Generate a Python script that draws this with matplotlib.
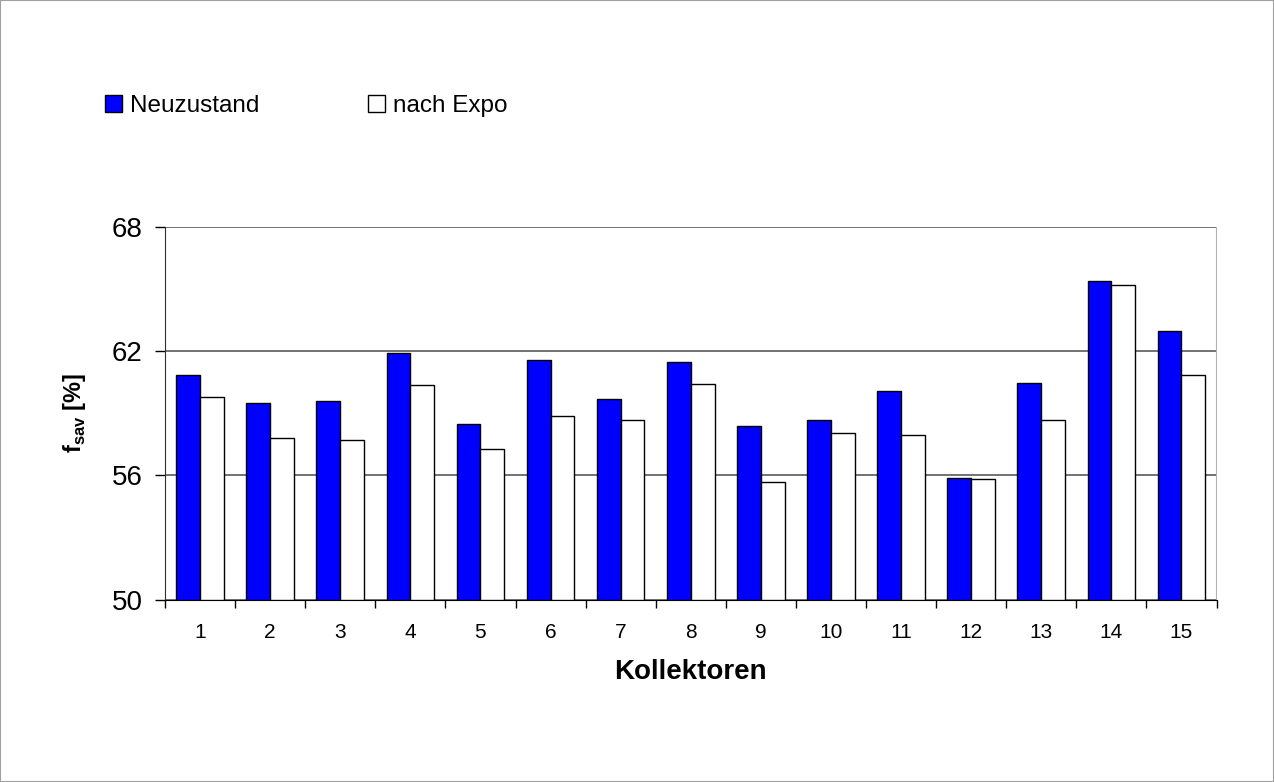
import matplotlib
matplotlib.use("Agg")
import matplotlib.pyplot as plt
import numpy as np
from matplotlib.patches import Rectangle

plt.rcParams['font.family'] = ['Liberation Sans', 'DejaVu Sans']
plt.rcParams['mathtext.fontset'] = 'custom'
plt.rcParams['mathtext.rm'] = 'Liberation Sans'
plt.rcParams['mathtext.bf'] = 'Liberation Sans:bold'

kollektoren = [str(i) for i in range(1, 16)]
neuzustand = [60.87, 59.48, 59.58, 61.9, 58.5, 61.58, 59.69, 61.47, 58.4, 58.67,
              60.06, 55.85, 60.48, 65.41, 62.98]
nach_expo = [59.8, 57.8, 57.69, 60.38, 57.27, 58.88, 58.67, 60.4, 55.69, 58.06,
             57.96, 55.8, 58.66, 65.19, 60.87]

fig = plt.figure(figsize=(12.74, 7.82), dpi=100)
ax = fig.add_axes([165/1274, 1 - 599.5/782, 1051.5/1274, 372.5/782])

x = np.arange(len(kollektoren))
w = 0.34
ax.bar(x - w/2, np.array(neuzustand) - 50, w, bottom=50, color='#0000ff',
       edgecolor='black', linewidth=1.0, zorder=3, label='Neuzustand')
ax.bar(x + w/2, np.array(nach_expo) - 50, w, bottom=50, color='white',
       edgecolor='black', linewidth=1.0, zorder=3, label='nach Expo')

ax.set_xlim(-0.5, len(kollektoren) - 0.5)
ax.set_ylim(50, 68)
ax.set_yticks([50, 56, 62, 68])
ax.yaxis.grid(True, color='#5a5a5a', linewidth=1.2, zorder=0)
ax.set_axisbelow(True)

ax.set_xticks(x)
ax.set_xticklabels(kollektoren, fontsize=15)
ax.set_xticks(np.arange(-0.5, len(kollektoren)), minor=True)
ax.tick_params(axis='x', which='major', length=0, pad=17)
ax.tick_params(axis='x', which='minor', length=6, width=1, direction='out')
ax.tick_params(axis='y', labelsize=20, length=7, width=1, pad=9)

for s in ['top', 'right']:
    ax.spines[s].set_visible(False)
ax.spines['left'].set_color('#303030')
ax.spines['bottom'].set_color('black')
ax.axvline(len(kollektoren) - 0.5, color='#b0b0b0', linewidth=1.5)

ax.set_xlabel('Kollektoren', fontsize=20, fontweight='bold', labelpad=12)
ax.set_ylabel(r'$\mathbf{f}_{\mathbf{sav}}$ [%]', fontsize=17, fontweight='bold', labelpad=17)

leg = fig.legend(loc='center left', bbox_to_anchor=(105/1274, 1 - 106/782), ncol=2,
                 frameon=False, fontsize=17.5, handlelength=0.7, handleheight=0.7,
                 handletextpad=0.33, columnspacing=4.47, borderpad=0, borderaxespad=0)

fig.patches.append(Rectangle((0, 0), 1, 1, transform=fig.transFigure, fill=False,
                             edgecolor='#a0a0a0', linewidth=1.5))

fig.savefig('out.png', dpi=100)
